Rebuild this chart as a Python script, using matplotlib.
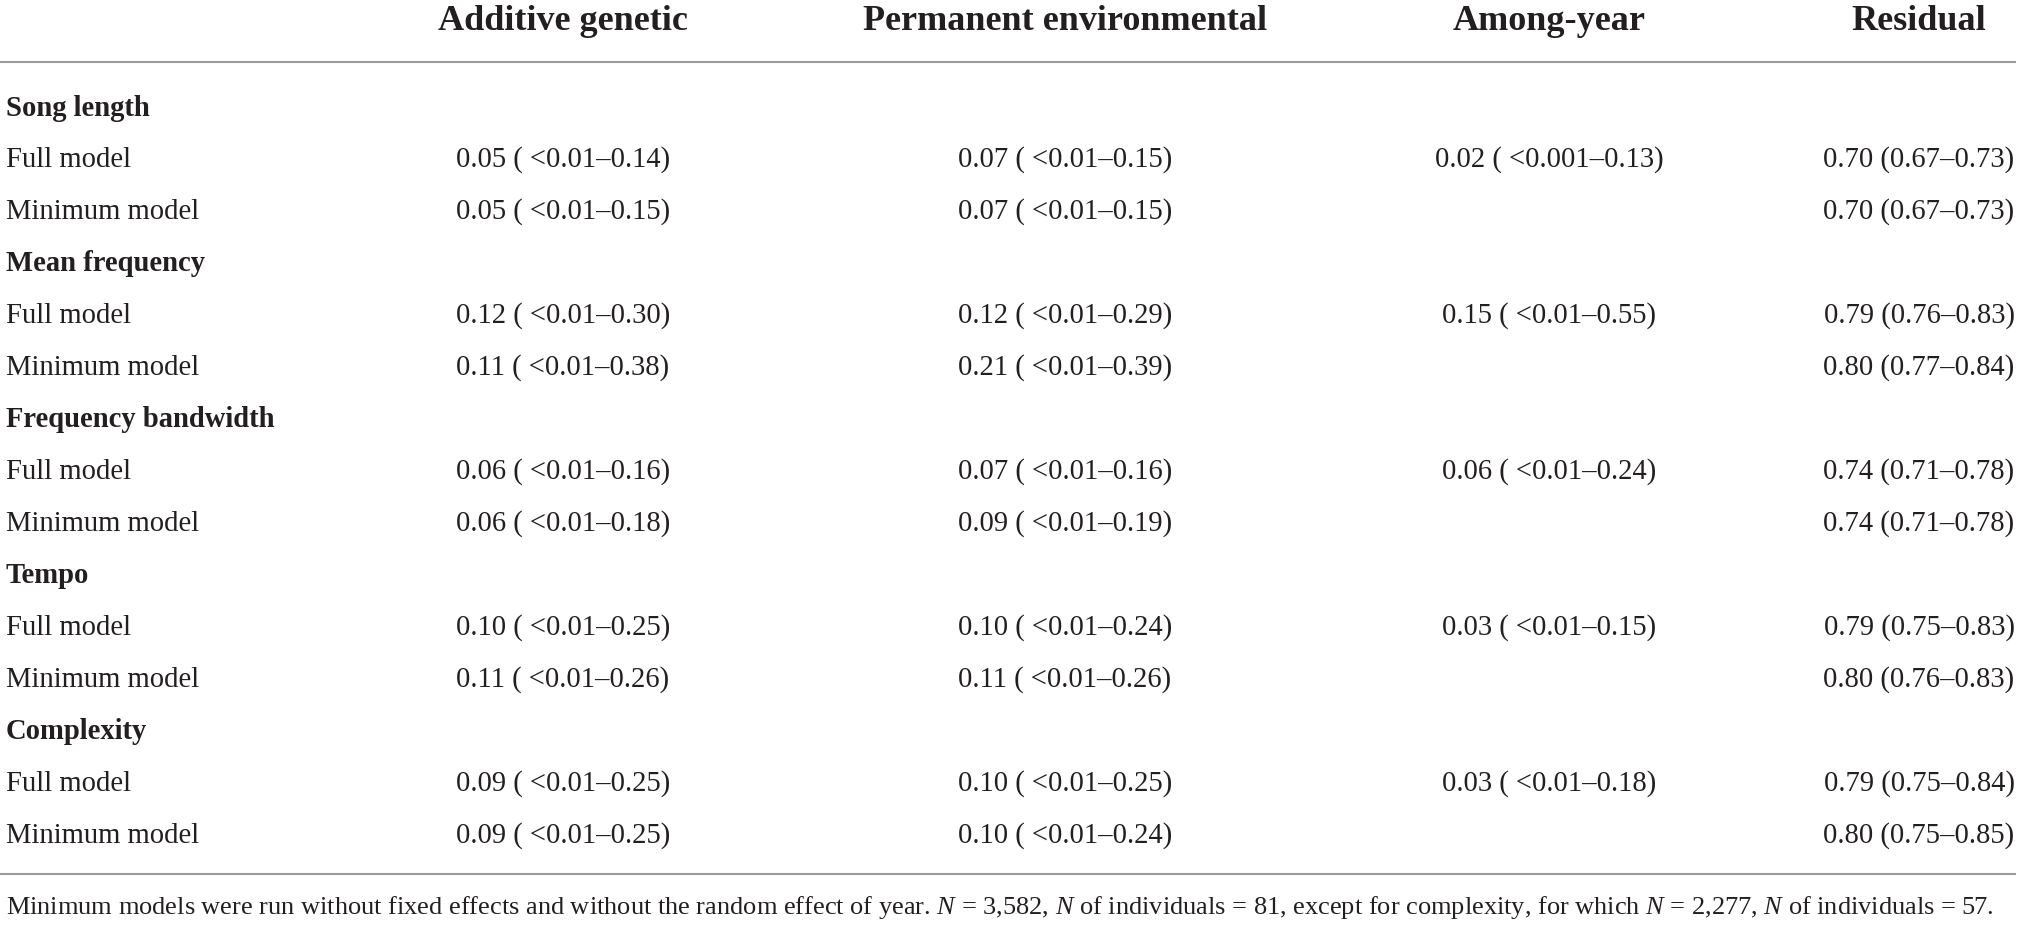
import matplotlib
matplotlib.use("Agg")
import matplotlib.pyplot as plt

plt.rcParams['font.family'] = ['Liberation Serif', 'DejaVu Serif']
plt.rcParams['mathtext.fontset'] = 'custom'
plt.rcParams['mathtext.rm'] = 'Liberation Serif'
plt.rcParams['mathtext.it'] = 'Liberation Serif:italic'

# table content
columns = ["Additive genetic", "Permanent environmental", "Among-year", "Residual"]
traits = ["Song length", "Mean frequency", "Frequency bandwidth", "Tempo", "Complexity"]
models = ["Full model", "Minimum model"]

additive = [["0.05 ( <0.01\u20130.14)", "0.05 ( <0.01\u20130.15)"],
            ["0.12 ( <0.01\u20130.30)", "0.11 ( <0.01\u20130.38)"],
            ["0.06 ( <0.01\u20130.16)", "0.06 ( <0.01\u20130.18)"],
            ["0.10 ( <0.01\u20130.25)", "0.11 ( <0.01\u20130.26)"],
            ["0.09 ( <0.01\u20130.25)", "0.09 ( <0.01\u20130.25)"]]
permanent = [["0.07 ( <0.01\u20130.15)", "0.07 ( <0.01\u20130.15)"],
             ["0.12 ( <0.01\u20130.29)", "0.21 ( <0.01\u20130.39)"],
             ["0.07 ( <0.01\u20130.16)", "0.09 ( <0.01\u20130.19)"],
             ["0.10 ( <0.01\u20130.24)", "0.11 ( <0.01\u20130.26)"],
             ["0.10 ( <0.01\u20130.25)", "0.10 ( <0.01\u20130.24)"]]
among_year = [["0.02 ( <0.001\u20130.13)", ""],
              ["0.15 ( <0.01\u20130.55)", ""],
              ["0.06 ( <0.01\u20130.24)", ""],
              ["0.03 ( <0.01\u20130.15)", ""],
              ["0.03 ( <0.01\u20130.18)", ""]]
residual = [["0.70 (0.67\u20130.73)", "0.70 (0.67\u20130.73)"],
            ["0.79 (0.76\u20130.83)", "0.80 (0.77\u20130.84)"],
            ["0.74 (0.71\u20130.78)", "0.74 (0.71\u20130.78)"],
            ["0.79 (0.75\u20130.83)", "0.80 (0.76\u20130.83)"],
            ["0.79 (0.75\u20130.84)", "0.80 (0.75\u20130.85)"]]

footnote = ("Minimum models were run without fixed effects and without the random effect of year. "
            "$N$ = 3,582, $N$ of individuals = 81, except for complexity, for which "
            "$N$ = 2,277, $N$ of individuals = 57.")

W, H = 2019, 928
fig = plt.figure(figsize=(W / 100, H / 100), dpi=100)
ax = fig.add_axes([0, 0, 1, 1])
ax.set_xlim(0, W)
ax.set_ylim(H, 0)
ax.axis('off')

txt = '#231f20'
col_x = [563, 1065, 1549, 1919]
row0, step = 108, 52
body_fs = 20.6
head_fs = 26

for x, name in zip(col_x, columns):
    ax.text(x, 22, name, ha='center', va='center', fontsize=head_fs,
            fontweight='bold', color=txt)

ax.plot([0, 2015], [63, 63], color='#9a9a9a', lw=1.5)

cells = [additive, permanent, among_year, residual]
row = 0
for t, trait in enumerate(traits):
    y = row0 + step * row
    ax.text(6, y, trait, ha='left', va='center', fontsize=body_fs,
            fontweight='bold', color=txt)
    row += 1
    for m, model in enumerate(models):
        y = row0 + step * row
        ax.text(6, y, model, ha='left', va='center', fontsize=body_fs, color=txt)
        for x, col in zip(col_x, cells):
            ax.text(x, y, col[t][m], ha='center', va='center',
                    fontsize=body_fs, color=txt)
        row += 1

ax.plot([0, 2015], [875, 875], color='#9a9a9a', lw=1.5)
ax.text(6, 908, footnote, ha='left', va='center', fontsize=19.0, color=txt)

fig.savefig('out.png', dpi=100)
